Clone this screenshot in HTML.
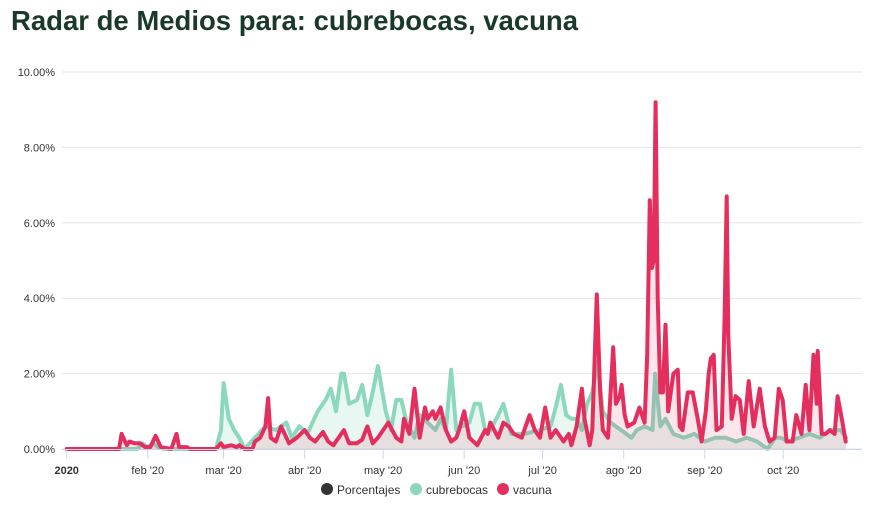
<!DOCTYPE html>
<html><head><meta charset="utf-8"><style>
body{margin:0;background:#fff;font-family:"Liberation Sans",sans-serif}
svg text{font-family:"Liberation Sans",sans-serif}
</style></head><body>
<svg id="chart" width="872" height="500">
<text x="11" y="30" font-size="27.5" font-weight="bold" fill="#1b392b">Radar de Medios para: cubrebocas, vacuna</text>
<g id="grid"></g><g id="series"></g><g id="axes"></g>
<g>
<g><circle cx="327" cy="489" r="6" fill="#333"/><text x="337" y="494" font-size="12" fill="#333">Porcentajes</text></g>
<g><circle cx="416" cy="489" r="6" fill="#8bd8bd"/><text x="426" y="494" font-size="12" fill="#333">cubrebocas</text></g>
<g><circle cx="503" cy="489" r="6" fill="#e42f5e"/><text x="513" y="494" font-size="12" fill="#333">vacuna</text></g>
</g>
</svg>
<script>
const yTicks=[0,2,4,6,8,10];
const yTickLabels=["0.00%","2.00%","4.00%","6.00%","8.00%","10.00%"];
const monthDays=[0,31,60,91,121,152,182,213,244,274];
const monthLabels=["2020","feb '20","mar '20","abr '20","may '20","jun '20","jul '20","ago '20","sep '20","oct '20"];
const cubDays=[0,27,29,31,33,35,37,57,59,60,62,64,66,68,72,76,80,84,86,89,92,94,96,99,101,103,105,106,108,111,113,115,117,119,120,122,124,126,128,130,133,135,138,141,143,145,147,149,151,154,156,158,160,162,165,167,170,175,181,185,187,189,191,193,195,197,199,201,203,205,208,212,216,218,221,224,225,227,229,232,236,240,244,248,252,256,260,264,268,271,273,276,280,284,288,292,296,298];
const cubVals=[0,0,0.15,0.05,0.15,0.05,0,0,0.5,1.75,0.8,0.5,0.3,0,0.3,0.6,0.5,0.7,0.3,0.6,0.4,0.7,1.0,1.3,1.6,1.0,2.0,2.0,1.2,1.3,1.7,0.9,1.5,2.2,1.8,1.0,0.5,1.3,1.3,0.7,0.3,0.9,0.7,0.5,0.8,0.5,2.1,0.5,0.6,0.7,1.2,1.2,0.5,0.5,0.9,1.2,0.4,0.4,0.5,0.6,1.1,1.7,0.9,0.8,0.8,0.5,1.2,1.5,2.3,1.0,0.7,0.5,0.3,0.5,0.6,0.5,2.0,0.6,0.8,0.4,0.3,0.4,0.2,0.3,0.3,0.2,0.3,0.2,0.0,0.3,0.3,0.2,0.3,0.4,0.3,0.5,0.5,0.3];
const vacDays=[0,20,21,23,24,26,28,30,32,34,36,40,42,43,46,47,57,59,60,63,65,66,68,71,72,74,76,77,78,80,82,84,85,88,91,93,95,98,100,102,106,108,111,113,115,117,119,121,123,126,128,129,131,133,135,137,138,140,141,143,145,147,149,150,152,154,157,160,161,162,165,167,169,171,174,175,177,179,181,183,185,187,190,192,193,195,197,198,200,201,202.7,204,205,207,209,210,211.5,212.2,213.4,214.5,217,219,221,222,223,223.8,224.5,225.2,226,227,228,229,230,232,233.7,234.4,235.5,237.5,239.4,241.3,242.8,244.4,245.5,246.3,247.4,248.5,250.5,251.6,252.4,253,254.3,255.8,257.4,258.9,260.8,262.7,265,267,268.8,270.7,272.3,273.8,275.3,277.6,279,281,282.6,284,285.6,286.8,287.2,288.7,290.2,291.8,293.7,294.8,296.4,297.9];
const vacVals=[0,0,0.4,0.1,0.2,0.15,0.15,0.05,0.05,0.35,0.05,0,0.4,0.05,0.05,0,0,0.15,0.05,0.1,0.05,0.1,0,0,0.2,0.3,0.6,1.35,0.3,0.2,0.6,0.3,0.15,0.3,0.5,0.3,0.2,0.45,0.2,0.1,0.5,0.15,0.15,0.25,0.6,0.15,0.3,0.5,0.7,0.3,0.2,0.8,0.4,1.6,0.3,1.1,0.8,1.0,0.8,1.1,0.5,0.2,0.3,0.5,1.0,0.3,0.1,0.5,0.4,0.7,0.3,0.7,0.6,0.4,0.3,0.5,0.9,0.5,0.3,1.1,0.3,0.5,0.2,0.4,0.1,0.6,1.6,0.8,0.1,0.5,4.1,1.5,0.5,0.3,2.7,1.2,1.4,1.7,0.9,0.6,0.7,1.1,0.7,2.5,6.6,4.8,5.0,9.2,4.0,1.5,1.5,3.3,1.0,2.0,2.1,0.6,0.5,1.5,1.5,0.8,0.2,1.0,2.0,2.4,2.5,0.5,0.6,3.5,6.7,3.0,0.8,1.4,1.3,0.4,1.8,0.6,1.6,0.6,0.2,0.3,1.6,1.3,0.2,0.2,0.9,0.4,1.7,0.5,2.5,1.2,2.6,0.4,0.4,0.5,0.4,1.4,0.8,0.2];

const NS="http://www.w3.org/2000/svg";
const x0=66.7,pxPerDay=2.615,yBase=449,yTop=72,yMax=10;
const xs=d=>x0+d*pxPerDay;
const ys=v=>yBase-(v/yMax)*(yBase-yTop);
function mk(tag,attrs,parent){const e=document.createElementNS(NS,tag);for(const k in attrs)e.setAttribute(k,attrs[k]);parent.appendChild(e);return e;}
const grid=document.getElementById('grid'),axes=document.getElementById('axes'),ser=document.getElementById('series');
yTicks.forEach((t,i)=>{
  const l=mk('line',{x1:62,x2:862,y1:ys(t),y2:ys(t),stroke:'#e6e6e6','stroke-width':1},grid);
  
  
  const tx=mk('text',{x:55,y:ys(t)+4,'text-anchor':'end','font-size':11,fill:'#333'},axes);
  tx.textContent=yTickLabels[i];
  
  
});
const ax=mk('line',{x1:62,x2:862,y1:yBase+0.5,y2:yBase+0.5,stroke:'#ccd6eb','stroke-width':1},axes);


monthDays.forEach((d,i)=>{
  const tk=mk('line',{x1:xs(d),x2:xs(d),y1:yBase,y2:yBase+10,stroke:'#ccd6eb'},axes);
  
  
  const tx=mk('text',{x:xs(d),y:474,'text-anchor':'middle','font-size':11,fill:'#333','font-weight':i==0?'bold':'normal'},axes);
  tx.textContent=monthLabels[i];
  
  
});
function draw(days,vals,color,fill,name){
  let p=days.map((d,i)=>xs(d).toFixed(1)+','+ys(vals[i]).toFixed(1)).join(' L');
  const a=mk('path',{d:'M'+xs(days[0])+','+yBase+' L'+p+' L'+xs(days[days.length-1])+','+yBase+' Z',fill:fill},ser);
  
  
  const l=mk('path',{d:'M'+p,fill:'none',stroke:color,'stroke-width':4,'stroke-linejoin':'round','stroke-linecap':'round'},ser);
  
  
}
draw(cubDays,cubVals,'#8bd8bd','rgba(139,216,189,0.2)','cubrebocas');
draw(vacDays,vacVals,'#e42f5e','rgba(228,47,94,0.12)','vacuna');
</script>
</body></html>
